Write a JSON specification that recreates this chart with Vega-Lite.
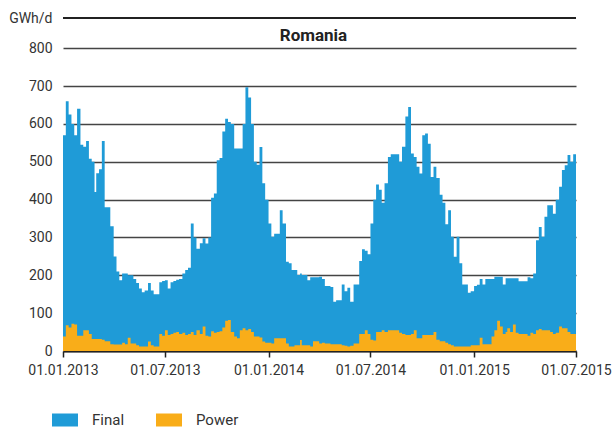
{
  "$schema": "https://vega.github.io/schema/vega-lite/v6.json",
  "width": 513,
  "height": 333,
  "autosize": {"type": "none"},
  "padding": {"left": 63, "top": 18, "right": 40, "bottom": 81},
  "background": "white",
  "config": {
    "font": "Roboto, sans-serif",
    "view": {"stroke": null},
    "axis": {"labelFont": "Roboto", "labelColor": "#333", "labelFontSize": 14, "titleFont": "Roboto"},
    "legend": {"labelFont": "Roboto"}
  },
  "title": {
    "text": "Romania",
    "anchor": "middle",
    "frame": "group",
    "font": "Roboto",
    "fontSize": 17,
    "fontWeight": "bold",
    "color": "#222",
    "baseline": "alphabetic",
    "offset": 0,
    "dy": 47,
    "dx": -6
  },
  "data": {
    "values": [
      {"d":"2013-01-01","Final":570,"Power":38},{"d":"2013-01-06","Final":660,"Power":68},{"d":"2013-01-11","Final":625,"Power":62},{"d":"2013-01-16","Final":600,"Power":72},{"d":"2013-01-21","Final":570,"Power":70},{"d":"2013-01-26","Final":640,"Power":40},
      {"d":"2013-02-01","Final":545,"Power":40},{"d":"2013-02-06","Final":540,"Power":55},{"d":"2013-02-11","Final":555,"Power":55},{"d":"2013-02-16","Final":508,"Power":45},{"d":"2013-02-21","Final":500,"Power":32},{"d":"2013-02-26","Final":420,"Power":32},
      {"d":"2013-03-01","Final":470,"Power":32},{"d":"2013-03-06","Final":480,"Power":32},{"d":"2013-03-11","Final":555,"Power":30},{"d":"2013-03-16","Final":380,"Power":26},{"d":"2013-03-21","Final":380,"Power":26},{"d":"2013-03-26","Final":330,"Power":18},
      {"d":"2013-04-01","Final":250,"Power":17},{"d":"2013-04-06","Final":210,"Power":17},{"d":"2013-04-11","Final":187,"Power":17},{"d":"2013-04-16","Final":205,"Power":22},{"d":"2013-04-21","Final":205,"Power":18},{"d":"2013-04-26","Final":200,"Power":35},
      {"d":"2013-05-01","Final":200,"Power":20},{"d":"2013-05-06","Final":190,"Power":20},{"d":"2013-05-11","Final":180,"Power":15},{"d":"2013-05-16","Final":165,"Power":12},{"d":"2013-05-21","Final":155,"Power":12},{"d":"2013-05-26","Final":160,"Power":12},
      {"d":"2013-06-01","Final":180,"Power":25},{"d":"2013-06-06","Final":160,"Power":15},{"d":"2013-06-11","Final":150,"Power":12},{"d":"2013-06-16","Final":150,"Power":12},{"d":"2013-06-21","Final":182,"Power":45},{"d":"2013-06-26","Final":185,"Power":40},
      {"d":"2013-07-01","Final":187,"Power":55},{"d":"2013-07-06","Final":165,"Power":42},{"d":"2013-07-11","Final":182,"Power":45},{"d":"2013-07-16","Final":185,"Power":48},{"d":"2013-07-21","Final":188,"Power":50},{"d":"2013-07-26","Final":190,"Power":45},
      {"d":"2013-08-01","Final":205,"Power":48},{"d":"2013-08-06","Final":214,"Power":42},{"d":"2013-08-11","Final":220,"Power":45},{"d":"2013-08-16","Final":337,"Power":50},{"d":"2013-08-21","Final":300,"Power":42},{"d":"2013-08-26","Final":270,"Power":55},
      {"d":"2013-09-01","Final":285,"Power":45},{"d":"2013-09-06","Final":298,"Power":65},{"d":"2013-09-11","Final":284,"Power":40},{"d":"2013-09-16","Final":300,"Power":38},{"d":"2013-09-21","Final":405,"Power":52},{"d":"2013-09-26","Final":416,"Power":48},
      {"d":"2013-10-01","Final":504,"Power":50},{"d":"2013-10-06","Final":510,"Power":52},{"d":"2013-10-11","Final":580,"Power":62},{"d":"2013-10-16","Final":614,"Power":80},{"d":"2013-10-21","Final":605,"Power":82},{"d":"2013-10-26","Final":600,"Power":50},
      {"d":"2013-11-01","Final":535,"Power":38},{"d":"2013-11-06","Final":535,"Power":34},{"d":"2013-11-11","Final":535,"Power":55},{"d":"2013-11-16","Final":600,"Power":60},{"d":"2013-11-21","Final":697,"Power":55},{"d":"2013-11-26","Final":670,"Power":58},
      {"d":"2013-12-01","Final":600,"Power":50},{"d":"2013-12-06","Final":500,"Power":38},{"d":"2013-12-11","Final":492,"Power":38},{"d":"2013-12-16","Final":539,"Power":36},{"d":"2013-12-21","Final":443,"Power":25},{"d":"2013-12-26","Final":400,"Power":22},
      {"d":"2014-01-01","Final":337,"Power":22},{"d":"2014-01-06","Final":302,"Power":20},{"d":"2014-01-11","Final":310,"Power":34},{"d":"2014-01-16","Final":310,"Power":34},{"d":"2014-01-21","Final":372,"Power":34},{"d":"2014-01-26","Final":337,"Power":34},
      {"d":"2014-02-01","Final":236,"Power":20},{"d":"2014-02-06","Final":232,"Power":12},{"d":"2014-02-11","Final":214,"Power":12},{"d":"2014-02-16","Final":214,"Power":15},{"d":"2014-02-21","Final":201,"Power":15},{"d":"2014-02-26","Final":205,"Power":29},
      {"d":"2014-03-01","Final":201,"Power":15},{"d":"2014-03-06","Final":201,"Power":15},{"d":"2014-03-11","Final":187,"Power":15},{"d":"2014-03-16","Final":195,"Power":12},{"d":"2014-03-21","Final":195,"Power":26},{"d":"2014-03-26","Final":195,"Power":26},
      {"d":"2014-04-01","Final":196,"Power":20},{"d":"2014-04-06","Final":190,"Power":22},{"d":"2014-04-11","Final":172,"Power":20},{"d":"2014-04-16","Final":172,"Power":20},{"d":"2014-04-21","Final":169,"Power":18},{"d":"2014-04-26","Final":130,"Power":18},
      {"d":"2014-05-01","Final":134,"Power":18},{"d":"2014-05-06","Final":134,"Power":18},{"d":"2014-05-11","Final":176,"Power":15},{"d":"2014-05-16","Final":158,"Power":14},{"d":"2014-05-21","Final":167,"Power":12},{"d":"2014-05-26","Final":130,"Power":14},
      {"d":"2014-06-01","Final":176,"Power":20},{"d":"2014-06-06","Final":176,"Power":20},{"d":"2014-06-11","Final":238,"Power":45},{"d":"2014-06-16","Final":269,"Power":45},{"d":"2014-06-21","Final":265,"Power":55},{"d":"2014-06-26","Final":256,"Power":45},
      {"d":"2014-07-01","Final":337,"Power":30},{"d":"2014-07-06","Final":400,"Power":28},{"d":"2014-07-11","Final":440,"Power":50},{"d":"2014-07-16","Final":426,"Power":50},{"d":"2014-07-21","Final":392,"Power":55},{"d":"2014-07-26","Final":443,"Power":50},
      {"d":"2014-08-01","Final":513,"Power":55},{"d":"2014-08-06","Final":520,"Power":55},{"d":"2014-08-11","Final":520,"Power":55},{"d":"2014-08-16","Final":520,"Power":55},{"d":"2014-08-21","Final":500,"Power":48},{"d":"2014-08-26","Final":540,"Power":45},
      {"d":"2014-09-01","Final":620,"Power":42},{"d":"2014-09-06","Final":645,"Power":42},{"d":"2014-09-11","Final":522,"Power":45},{"d":"2014-09-16","Final":513,"Power":55},{"d":"2014-09-21","Final":487,"Power":34},{"d":"2014-09-26","Final":469,"Power":34},
      {"d":"2014-10-01","Final":570,"Power":42},{"d":"2014-10-06","Final":575,"Power":42},{"d":"2014-10-11","Final":548,"Power":42},{"d":"2014-10-16","Final":460,"Power":42},{"d":"2014-10-21","Final":487,"Power":50},{"d":"2014-10-26","Final":457,"Power":30},
      {"d":"2014-11-01","Final":413,"Power":26},{"d":"2014-11-06","Final":392,"Power":26},{"d":"2014-11-11","Final":335,"Power":22},{"d":"2014-11-16","Final":372,"Power":18},{"d":"2014-11-21","Final":302,"Power":15},{"d":"2014-11-26","Final":249,"Power":12},
      {"d":"2014-12-01","Final":302,"Power":12},{"d":"2014-12-06","Final":232,"Power":12},{"d":"2014-12-11","Final":176,"Power":12},{"d":"2014-12-16","Final":176,"Power":12},{"d":"2014-12-21","Final":154,"Power":12},{"d":"2014-12-26","Final":158,"Power":15},
      {"d":"2015-01-01","Final":172,"Power":15},{"d":"2015-01-06","Final":175,"Power":15},{"d":"2015-01-11","Final":190,"Power":35},{"d":"2015-01-16","Final":176,"Power":18},{"d":"2015-01-21","Final":190,"Power":18},{"d":"2015-01-26","Final":190,"Power":18},
      {"d":"2015-02-01","Final":190,"Power":38},{"d":"2015-02-06","Final":196,"Power":55},{"d":"2015-02-11","Final":196,"Power":80},{"d":"2015-02-16","Final":196,"Power":65},{"d":"2015-02-21","Final":176,"Power":45},{"d":"2015-02-26","Final":192,"Power":50},
      {"d":"2015-03-01","Final":192,"Power":60},{"d":"2015-03-06","Final":192,"Power":50},{"d":"2015-03-11","Final":192,"Power":70},{"d":"2015-03-16","Final":192,"Power":48},{"d":"2015-03-21","Final":184,"Power":45},{"d":"2015-03-26","Final":184,"Power":45},
      {"d":"2015-04-01","Final":184,"Power":45},{"d":"2015-04-06","Final":195,"Power":40},{"d":"2015-04-11","Final":192,"Power":48},{"d":"2015-04-16","Final":205,"Power":45},{"d":"2015-04-21","Final":293,"Power":55},{"d":"2015-04-26","Final":328,"Power":58},
      {"d":"2015-05-01","Final":302,"Power":55},{"d":"2015-05-06","Final":355,"Power":55},{"d":"2015-05-11","Final":385,"Power":55},{"d":"2015-05-16","Final":385,"Power":50},{"d":"2015-05-21","Final":363,"Power":45},{"d":"2015-05-26","Final":400,"Power":48},
      {"d":"2015-06-01","Final":434,"Power":65},{"d":"2015-06-06","Final":478,"Power":60},{"d":"2015-06-11","Final":491,"Power":60},{"d":"2015-06-16","Final":518,"Power":50},{"d":"2015-06-21","Final":500,"Power":45},{"d":"2015-06-26","Final":520,"Power":45},
      {"d":"2015-07-01","Final":520,"Power":45}
    ]
  },
  "layer": [
    {
      "mark": {"type": "area", "interpolate": "step-after"},
      "encoding": {
        "x": {
          "field": "d",
          "type": "temporal",
          "scale": {"type": "utc", "domain": [{"year": 2013, "month": 1, "date": 1, "utc": true}, {"year": 2015, "month": 7, "date": 1, "utc": true}]},
          "axis": {
            "title": null,
            "format": "%d.%m.%Y",
            "values": [
              {"year": 2013, "month": 1, "date": 1, "utc": true},
              {"year": 2013, "month": 7, "date": 1, "utc": true},
              {"year": 2014, "month": 1, "date": 1, "utc": true},
              {"year": 2014, "month": 7, "date": 1, "utc": true},
              {"year": 2015, "month": 1, "date": 1, "utc": true},
              {"year": 2015, "month": 7, "date": 1, "utc": true}
            ],
            "grid": false,
            "domain": true,
            "domainColor": "#222",
            "domainWidth": 2,
            "ticks": true,
            "tickColor": "#222",
            "tickSize": 6,
            "tickWidth": 1.5,
            "labelPadding": 6,
            "labelFlush": false,
            "labelOverlap": false
          }
        },
        "y": {
          "field": "Final",
          "type": "quantitative",
          "scale": {"domain": [0, 880], "nice": false},
          "axis": {
            "title": "GWh/d",
            "titleAngle": 0,
            "titleAlign": "right",
            "titleBaseline": "middle",
            "titleX": -11,
            "titleY": 0,
            "titleFontSize": 14,
            "titleFontWeight": "normal",
            "titleColor": "#333",
            "values": [0, 100, 200, 300, 400, 500, 600, 700, 800],
            "domain": false,
            "ticks": false,
            "grid": true,
            "gridColor": "#444",
            "gridWidth": 1.3,
            "labelPadding": 11
          }
        },
        "color": {
          "datum": "Final",
          "type": "nominal",
          "scale": {"domain": ["Final", "Power"], "range": ["#1f9bd7", "#f9ad19"]},
          "legend": {
            "title": null,
            "orient": "none",
            "direction": "horizontal",
            "legendX": -11,
            "legendY": 389,
            "symbolType": "M-1,-0.5H1V0.5H-1Z",
            "symbolSize": 676,
            "symbolStrokeWidth": 0,
            "symbolOpacity": 1,
            "labelFontSize": 15,
            "labelColor": "#333",
            "labelOffset": 14,
            "columnPadding": 31
          }
        }
      }
    },
    {
      "mark": {"type": "area", "interpolate": "step-after"},
      "encoding": {
        "x": {"field": "d", "type": "temporal"},
        "y": {"field": "Power", "type": "quantitative"},
        "color": {"datum": "Power", "type": "nominal"}
      }
    },
    {
      "mark": {"type": "rule", "color": "#222", "strokeWidth": 1.5},
      "encoding": {"y": {"datum": 880}}
    }
  ]
}
